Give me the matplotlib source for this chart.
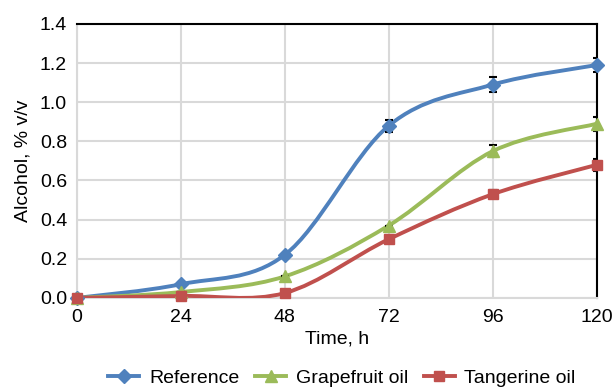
import numpy as np
import matplotlib.pyplot as plt
from matplotlib.path import Path
from matplotlib.patches import PathPatch
from matplotlib.lines import Line2D

plt.rcParams['font.family'] = ['Liberation Sans', 'DejaVu Sans']

# data
hours = [0, 24, 48, 72, 96, 120]
reference = [0.0, 0.07, 0.22, 0.88, 1.09, 1.19]
reference_err = [0, 0, 0, 0.03, 0.04, 0.035]
grapefruit = [0.0, 0.03, 0.11, 0.37, 0.75, 0.89]
grapefruit_err = [0, 0, 0, 0, 0.03, 0.035]
tangerine = [0.0, 0.01, 0.025, 0.30, 0.53, 0.68]
tangerine_err = [0, 0, 0, 0, 0.02, 0.03]

series = [
    ("Reference", reference, reference_err, "#4F81BD", "D", 7.5),
    ("Grapefruit oil", grapefruit, grapefruit_err, "#9BBB59", "^", 9),
    ("Tangerine oil", tangerine, tangerine_err, "#C0504D", "s", 7.5),
]

FS = 14


def smooth_path(x, y):
    # Excel-like smoothing: cubic bezier through points (Catmull-Rom)
    x = np.asarray(x, float)
    y = np.asarray(y, float)
    verts = [(x[0], y[0])]
    codes = [Path.MOVETO]
    n = len(x)
    for i in range(n - 1):
        p0 = i - 1 if i > 0 else i
        p3 = i + 2 if i + 2 < n else i + 1
        c1 = (x[i] + (x[i + 1] - x[p0]) / 6, y[i] + (y[i + 1] - y[p0]) / 6)
        c2 = (x[i + 1] - (x[p3] - x[i]) / 6, y[i + 1] - (y[p3] - y[i]) / 6)
        verts += [c1, c2, (x[i + 1], y[i + 1])]
        codes += [Path.CURVE4] * 3
    return Path(verts, codes)


fig, ax = plt.subplots(figsize=(6.14, 3.92), dpi=100)
fig.subplots_adjust(left=0.125, right=0.972, top=0.939, bottom=0.24)

handles = []
for name, vals, err, color, marker, ms in series:
    ax.add_patch(PathPatch(smooth_path(hours, vals), facecolor='none',
                           edgecolor=color, lw=2.8, zorder=3))
    ax.errorbar(hours, vals, yerr=err, fmt='none', ecolor='black',
                elinewidth=1, capsize=3, capthick=1.5, zorder=4)
    ax.plot(hours, vals, ls='none', marker=marker, ms=ms, color=color,
            zorder=5, clip_on=False)
    handles.append(Line2D([], [], color=color, lw=2.8, marker=marker, ms=ms,
                          label=name))

ax.set_xlim(0, 120)
ax.set_ylim(0, 1.4)
ax.set_xticks(hours)
ax.set_yticks(np.arange(0, 1.41, 0.2))
ax.yaxis.set_major_formatter(plt.FormatStrFormatter('%.1f'))
ax.grid(True, color='#D9D9D9', lw=1.5, zorder=0)
ax.set_axisbelow(True)
ax.tick_params(length=0, labelsize=FS, colors='black')
ax.tick_params(axis='y', pad=7)
ax.tick_params(axis='x', pad=8)

for s in ['left', 'bottom']:
    ax.spines[s].set_color('#D9D9D9')
    ax.spines[s].set_linewidth(1.5)
for s in ['top', 'right']:
    ax.spines[s].set_color('black')
    ax.spines[s].set_linewidth(1.5)

ax.set_xlabel("Time, h", fontsize=FS, labelpad=3)
ax.set_ylabel("Alcohol, % v/v", fontsize=FS, labelpad=6)

fig.legend(handles=handles, loc='center', ncol=3, frameon=False,
           fontsize=FS, bbox_to_anchor=(0.557, 0.035), handlelength=1.6,
           columnspacing=0.8, handletextpad=0.5)

fig.savefig("out.png", dpi=100)
